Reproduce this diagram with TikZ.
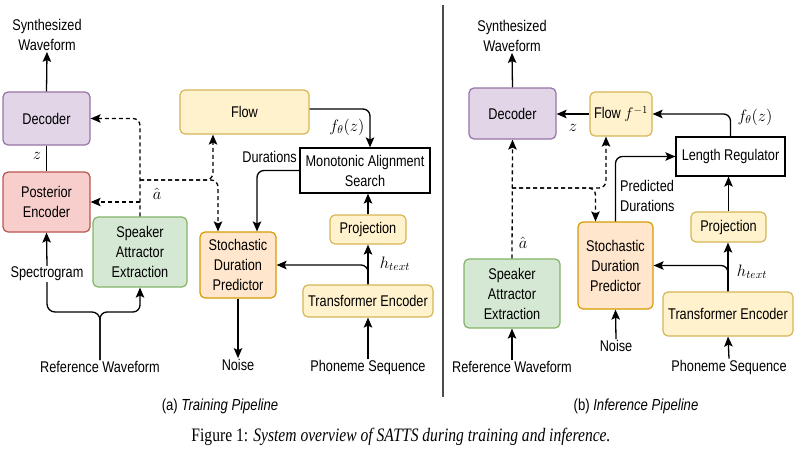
\documentclass[tikz,border=0pt]{standalone}
\usepackage{fix-cm}
\usepackage{fontspec}
\setmainfont{Liberation Sans}[FakeStretch=0.82]
\newfontfamily\captionserif{Liberation Serif}[FakeStretch=0.82]
\usetikzlibrary{
    arrows.meta,
}
\definecolor{decfill}{HTML}{E1D5E7}
\definecolor{decline}{HTML}{9673A6}
\definecolor{postfill}{HTML}{F8CECC}
\definecolor{postline}{HTML}{B85450}
\definecolor{saefill}{HTML}{D5E8D4}
\definecolor{saeline}{HTML}{82B366}
\definecolor{yelfill}{HTML}{FFF2CC}
\definecolor{yelline}{HTML}{D6B656}
\definecolor{sdpfill}{HTML}{FFE6CC}
\definecolor{sdpline}{HTML}{D79B00}
\newcommand{\blockfont}{\fontsize{15.5}{20}\selectfont}
\newcommand{\boxround}{5pt}
\tikzstyle{flowarrow} = [-{Stealth[length=10pt,width=8.5pt,inset=2pt]}, line width=1.3pt, rounded corners=7pt]
\tikzstyle{dasharrow} = [flowarrow, dash pattern=on 4pt off 3pt]
\tikzstyle{plainline} = [line width=1.3pt, rounded corners=8pt]
\tikzstyle{block} = [
  draw,
  shape=rectangle,
  rounded corners=\boxround,
  line width=1.2pt,
  align=center,
  inner sep=1pt,
  font=\blockfont,
]
\tikzstyle{decblock} = [block, fill=decfill, draw=decline]
\tikzstyle{postblock} = [block, fill=postfill, draw=postline]
\tikzstyle{saeblock} = [block, fill=saefill, draw=saeline]
\tikzstyle{yelblock} = [block, fill=yelfill, draw=yelline]
\tikzstyle{sdpblock} = [block, fill=sdpfill, draw=sdpline]
\tikzstyle{plainblock} = [block, rounded corners=0pt, fill=white, draw=black]
\tikzstyle{textlabel} = [align=center, inner sep=1pt, font=\blockfont]
\tikzstyle{mathlabel} = [inner sep=1pt, font=\fontsize{16.5}{19}\selectfont]

\begin{document}
\begin{tikzpicture}[x=1pt, y=-1pt]
    \useasboundingbox (0,0) rectangle (800,450);
    % (a) training
    \node[textlabel] (synthA) at (47,35) {Synthesized\\Waveform};
    \node[decblock, minimum width=87, minimum height=53] (decA) at (46.5,118.5) {Decoder};
    \node[postblock, minimum width=87, minimum height=60] (postA) at (46.5,202) {Posterior\\Encoder};
    \node[textlabel] (specA) at (47,274) {Spectrogram};
    \node[saeblock, minimum width=94, minimum height=70] (saeA) at (140,252) {Speaker\\Attractor\\Extraction};
    \node[textlabel] (refA) at (100,367) {Reference Waveform};
    \node[yelblock, minimum width=129, minimum height=44] (flowA) at (244.5,112) {Flow};
    \node[plainblock, minimum width=130, minimum height=45] (masA) at (365,170.5) {Monotonic Alignment\\Search};
    \node[textlabel, anchor=east] (durA) at (298,157) {Durations};
    \node[sdpblock, minimum width=76, minimum height=66] (sdpA) at (238,265) {Stochastic\\Duration\\Predictor};
    \node[textlabel] (noiseA) at (238,365) {Noise};
    \node[yelblock, minimum width=76, minimum height=29] (projA) at (368,229.5) {Projection};
    \node[yelblock, minimum width=130, minimum height=32] (teA) at (368,301) {Transformer Encoder};
    \node[textlabel] (phonA) at (368,367) {Phoneme Sequence};
    \node[mathlabel] (zA) at (37,156) {$z$};
    \node[mathlabel] (hatA) at (157,194) {$\hat{a}$};
    \node[mathlabel] (fthetaA) at (347,127) {$f_\theta(z)$};
    \node[mathlabel] (htextA) at (395,264) {$h_{text}$};
    \coordinate (forkA) at (100,312);
    \coordinate (dashA) at (140,180);

    \draw[flowarrow] (decA.north) -- (synthA.south);
    \draw[plainline] (decA.south) -- (postA.north);
    \draw[flowarrow] (specA.north) -- (postA.south);
    \draw[plainline] (refA.north) -- (forkA) -| (specA.south);
    \draw[flowarrow] (refA.north) -- (forkA) -| (saeA.south);
    \draw[dasharrow] (saeA.north) |- (decA.east);
    \draw[dasharrow] (saeA.north |- postA.east) -- (postA.east);
    \draw[dasharrow] (dashA) -| ([xshift=-31.5pt]flowA.south);
    \draw[dasharrow] (dashA) -| ([xshift=-20pt]sdpA.north);
    \draw[flowarrow] ([yshift=3pt]flowA.east) -| ([xshift=5pt]masA.north);
    \draw[flowarrow] (masA.west) -| ([xshift=19pt]sdpA.north);
    \draw[flowarrow] (projA.north) -- (projA.north |- masA.south);
    \draw[flowarrow] (teA.north) -- (projA.south);
    \draw[flowarrow] (teA.north) |- (sdpA.east);
    \draw[flowarrow] (sdpA.south) -- (noiseA.north);
    \draw[flowarrow] (phonA.north) -- (teA.south);

    % divider
    \draw[line width=1.3pt, black!70] (443,5) -- (443,397);

    % (b) inference
    \node[textlabel] (synthB) at (512,36) {Synthesized\\Waveform};
    \node[decblock, minimum width=87, minimum height=51] (decB) at (512.5,113.5) {Decoder};
    \node[yelblock, minimum width=62, minimum height=44] (flowB) at (621,114) {Flow $f^{-1}$};
    \node[plainblock, minimum width=109, minimum height=39] (lrB) at (730.5,156.5) {Length Regulator};
    \node[textlabel, anchor=west, align=left] (predB) at (619,196) {Predicted\\Durations};
    \node[sdpblock, minimum width=75, minimum height=87] (sdpB) at (615.5,265.5) {Stochastic\\Duration\\Predictor};
    \node[saeblock, minimum width=96, minimum height=69] (saeB) at (512,293.5) {Speaker\\Attractor\\Extraction};
    \node[yelblock, minimum width=75, minimum height=30] (projB) at (728.5,227) {Projection};
    \node[yelblock, minimum width=130, minimum height=44] (teB) at (728,314) {Transformer Encoder};
    \node[textlabel] (refB) at (512,367) {Reference Waveform};
    \node[textlabel] (noiseB) at (616,346) {Noise};
    \node[textlabel] (phonB) at (729,367) {Phoneme Sequence};
    \node[mathlabel] (zB) at (573,128) {$z$};
    \node[mathlabel] (fthetaB) at (755,117) {$f_\theta(z)$};
    \node[mathlabel] (hatB) at (523,243) {$\hat{a}$};
    \node[mathlabel] (htextB) at (752,272) {$h_{text}$};
    \coordinate (dashB) at (512,188);

    \draw[flowarrow] (decB.north) -- (synthB.south);
    \draw[flowarrow] (flowB.west) -- (flowB.west -| decB.east);
    \draw[flowarrow] (lrB.north) |- (flowB.east);
    \draw[flowarrow] (sdpB.north) |- (lrB.west);
    \draw[flowarrow] (projB.north) -- (projB.north |- lrB.south);
    \draw[flowarrow] (teB.north) -- (teB.north |- projB.south);
    \draw[flowarrow] (teB.north) |- (sdpB.east);
    \draw[flowarrow] (noiseB.north) -- (sdpB.south);
    \draw[flowarrow] (phonB.north) -- (teB.south);
    \draw[flowarrow] (refB.north) -- (saeB.south);
    \draw[dasharrow] (saeB.north) -- (decB.south);
    \draw[dasharrow] (dashB) -| ([xshift=-15pt]flowB.south);
    \draw[dasharrow] (dashB) -| ([xshift=-20pt]sdpB.north);

    % captions
    \node[font=\fontsize{16}{19}\selectfont] (capA) at (220,406) {(a) \textit{Training Pipeline}};
    \node[font=\fontsize{16}{19}\selectfont] (capB) at (636,406) {(b) \textit{Inference Pipeline}};
    \node[font=\captionserif\fontsize{19}{22}\selectfont] (figcap) at (401,437) {Figure 1: \textit{System overview of SATTS during training and inference.}};
\end{tikzpicture}
\end{document}
